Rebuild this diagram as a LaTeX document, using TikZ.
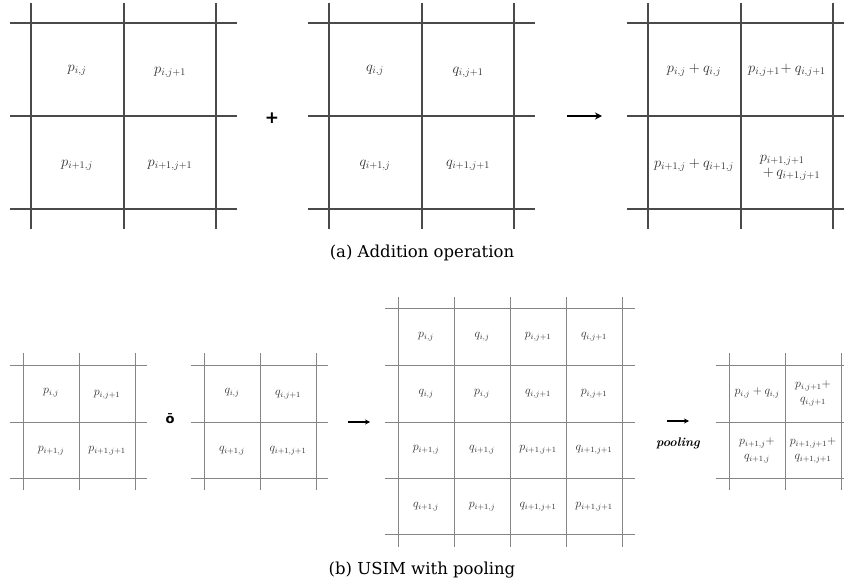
\RequirePackage{fix-cm}
\documentclass[tikz,border=0pt]{standalone}
\usepackage{amsmath}
\usepackage{bm}
\usepackage{fontspec}
\newfontfamily\capfont{DejaVu Serif}
\newfontfamily\opfont{DejaVu Sans}
\usepackage{tikz}
\usetikzlibrary{arrows.meta,positioning}
\definecolor{linetop}{HTML}{4A4A4A}
\definecolor{linebot}{HTML}{858585}
\definecolor{celltext}{HTML}{2E2E2E}

\begin{document}
\begin{tikzpicture}[
    x=1pt, y=-1pt,
    >=Stealth,
    toprule/.style={draw=linetop, line width=1.4pt},
    botrule/.style={draw=linebot, line width=1pt},
    bigcell/.style={text=celltext, font=\fontsize{14.5}{17}\selectfont, align=center},
    smallcell/.style={text=celltext, font=\fontsize{12}{15}\selectfont, align=center},
    caption/.style={font=\capfont\fontsize{16.5}{20}\selectfont}
]
    \useasboundingbox (0,0) rectangle (844,586);

    % === (a) ADDITION OPERATION ===
    % Grid lines of the three 2x2 grids
    \foreach \x in {31,329,648} {
        \foreach \k/\d in {0/0,1/93,2/185} {
            \draw[toprule] ({\x+\d},3) -- ({\x+\d},229);
            \draw[toprule] ({\x-21},{23+93*\k}) -- ({min(\x+206,844)},{23+93*\k});
        }
    }

    % First operand
    \node[bigcell] (p11) at (77,70) {$p_{i,j}$};
    \node[bigcell] (p12) at (170,72) {$p_{i,j+1}$};
    \node[bigcell] (p21) at (77,165) {$p_{i+1,j}$};
    \node[bigcell] (p22) at (170,165) {$p_{i+1,j+1}$};

    \node[font=\opfont\bfseries\fontsize{17}{17}\selectfont] (plus) at (272,118) {+};

    % Second operand
    \node[bigcell] (q11) at (375,70) {$q_{i,j}$};
    \node[bigcell] (q12) at (468,72) {$q_{i,j+1}$};
    \node[bigcell] (q21) at (375,165) {$q_{i+1,j}$};
    \node[bigcell] (q22) at (468,165) {$q_{i+1,j+1}$};

    \coordinate (addS) at (567,116);
    \coordinate (addE) at (602,116);
    \draw[->, line width=2pt, >={Stealth[length=7pt,width=7pt]}] (addS) -- (addE);

    % Sum
    \node[bigcell] (s11) at (694,70) {$p_{i,j}+q_{i,j}$};
    \node[bigcell] (s12) at (787,70) {$p_{i,j+1}\!+q_{i,j+1}$};
    \node[bigcell] (s21) at (694,165) {$p_{i+1,j}+q_{i+1,j}$};
    \node[bigcell, align=left] (s22) at (790,168) {$p_{i+1,j+1}$\\[-2pt]\hspace{3pt}$+\,q_{i+1,j+1}$};

    \node[caption] (capa) at (422,253) {(a) Addition operation};

    % === (b) USIM WITH POOLING ===
    % Small 2x2 grids
    \foreach \x in {23,204,729} {
        \foreach \k/\d in {0/0,1/57,2/113} {
            \draw[botrule] ({\x+56*\k},353) -- ({\x+56*\k},490);
            \draw[botrule] ({\x-13},{365+\d}) -- ({min(\x+124,844)},{365+\d});
        }
    }

    \node[smallcell] (bp11) at (51,393) {$p_{i,j}$};
    \node[smallcell] (bp12) at (107,395) {$p_{i,j+1}$};
    \node[smallcell] (bp21) at (51,451) {$p_{i+1,j}$};
    \node[smallcell] (bp22) at (107,451) {$p_{i+1,j+1}$};

    \node[font=\opfont\bfseries\fontsize{13}{13}\selectfont, inner sep=0pt] (usim) at (170,419) {ō};

    \node[smallcell] (bq11) at (232,393) {$q_{i,j}$};
    \node[smallcell] (bq12) at (288,395) {$q_{i,j+1}$};
    \node[smallcell] (bq21) at (232,451) {$q_{i+1,j}$};
    \node[smallcell] (bq22) at (288,451) {$q_{i+1,j+1}$};

    \coordinate (mixS) at (348,422);
    \coordinate (mixE) at (370,422);
    \draw[->, line width=1.2pt, >={Stealth[length=5pt,width=5pt]}] (mixS) -- (mixE);

    % Interleaved 4x4 grid
    \foreach \k/\d in {0/0,1/57,2/114,3/170,4/226} {
        \draw[botrule] ({398+56*\k},297) -- ({398+56*\k},547);
        \draw[botrule] (385,{308+\d}) -- (635,{308+\d});
    }
    \foreach \lab [count=\c] in {p_{i,j},q_{i,j},p_{i,j+1},q_{i,j+1}}
        \node[smallcell] (u1-\c) at ({370+56*\c},337) {$\lab$};
    \foreach \lab [count=\c] in {q_{i,j},p_{i,j},q_{i,j+1},p_{i,j+1}}
        \node[smallcell] (u2-\c) at ({370+56*\c},394) {$\lab$};
    \foreach \lab [count=\c] in {p_{i+1,j},q_{i+1,j},p_{i+1,j+1},q_{i+1,j+1}}
        \node[smallcell] (u3-\c) at ({370+56*\c},450) {$\lab$};
    \foreach \lab [count=\c] in {q_{i+1,j},p_{i+1,j},q_{i+1,j+1},p_{i+1,j+1}}
        \node[smallcell] (u4-\c) at ({370+56*\c},507) {$\lab$};

    \coordinate (poolS) at (667,421);
    \coordinate (poolE) at (689,421);
    \draw[->, line width=1.2pt, >={Stealth[length=5pt,width=5pt]}] (poolS) -- (poolE);
    \node[font=\bfseries\itshape\fontsize{12.5}{14}\selectfont, below=13pt of poolS, xshift=11pt] (pool) {pooling};

    % Pooled grid
    \node[smallcell] (r11) at (757,393) {$p_{i,j}+q_{i,j}$};
    \node[smallcell] (r12) at (813,393) {$p_{i,j+1}+$\\$q_{i,j+1}$};
    \node[smallcell] (r21) at (757,450) {$p_{i+1,j}+$\\$q_{i+1,j}$};
    \node[smallcell] (r22) at (813,450) {$p_{i+1,j+1}+$\\$q_{i+1,j+1}$};

    \node[caption] (capb) at (422,570) {(b) USIM with pooling};
\end{tikzpicture}
\end{document}
